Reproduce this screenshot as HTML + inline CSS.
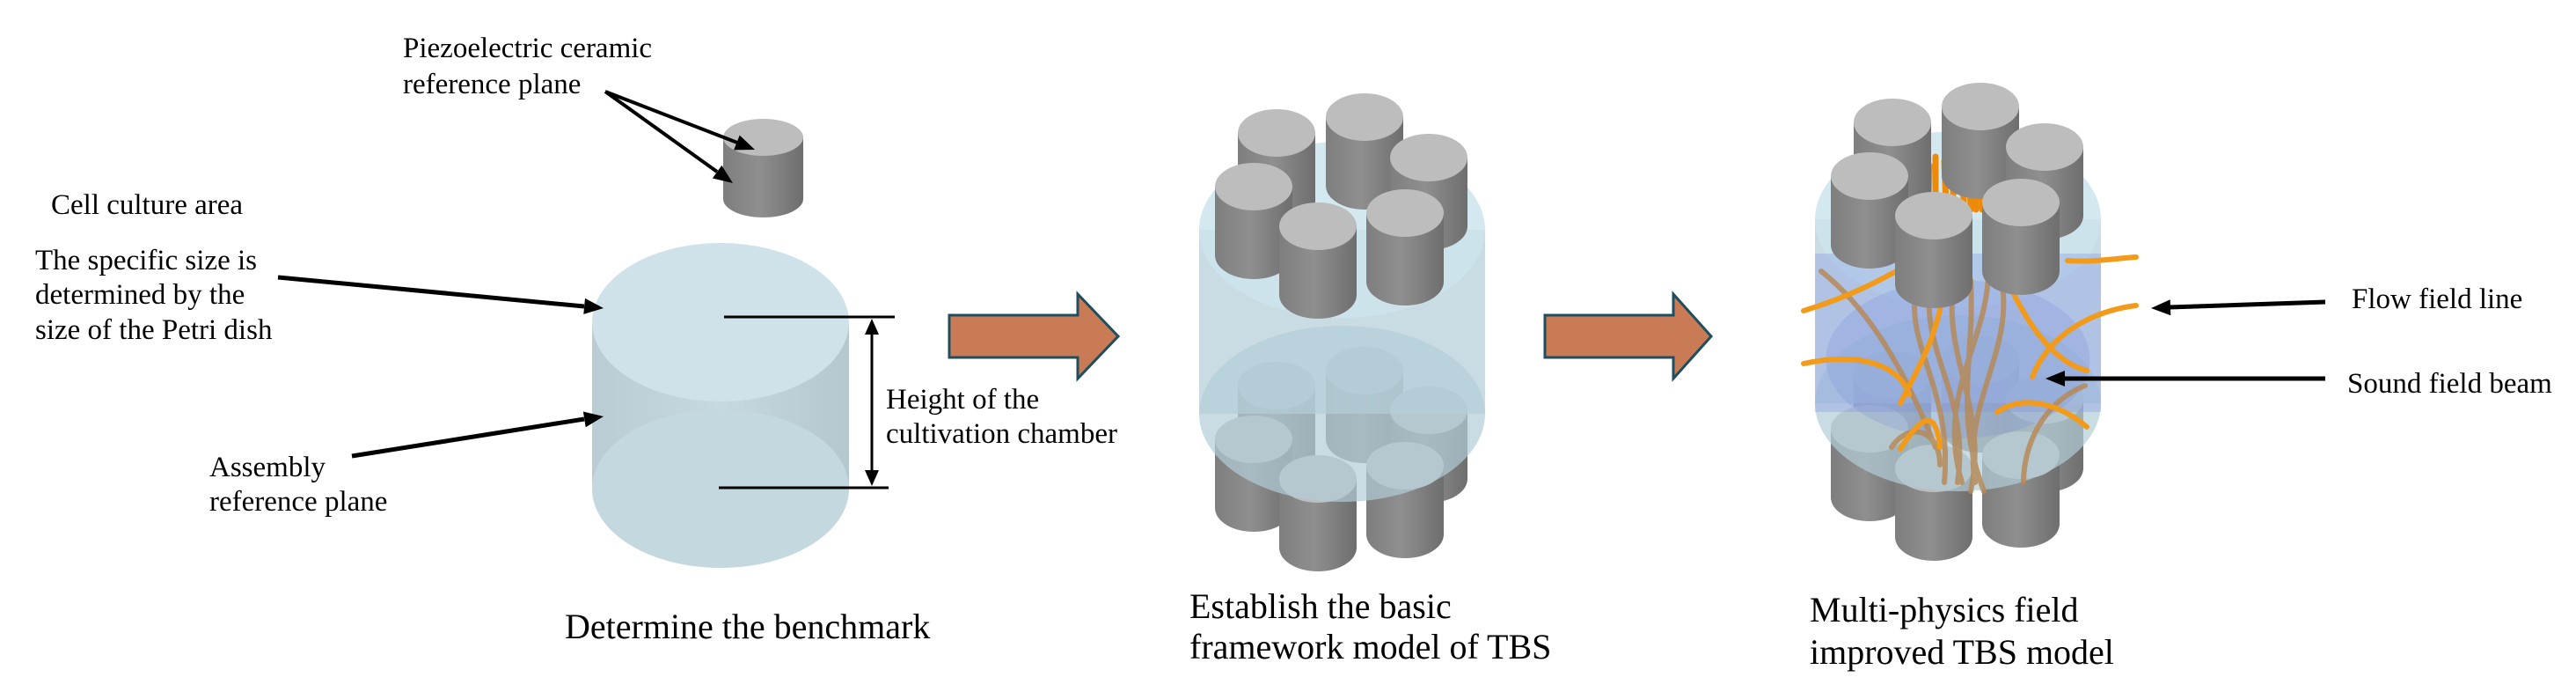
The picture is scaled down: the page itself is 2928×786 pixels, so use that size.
<!DOCTYPE html>
<html><head><meta charset="utf-8">
<style>
html,body{margin:0;padding:0;background:#fff;}
svg{display:block;}
</style></head>
<body>
<svg width="2928" height="786" viewBox="0 0 2928 786" xmlns="http://www.w3.org/2000/svg" font-family="'Liberation Serif', 'Times New Roman', serif">
<defs>
<linearGradient id="gb" x1="0" x2="1" y1="0" y2="0">
<stop offset="0" stop-color="#7e7e7e"/><stop offset="0.45" stop-color="#8f8f8f"/><stop offset="1" stop-color="#6e6e6e"/>
</linearGradient>
<linearGradient id="lb" x1="0" x2="1" y1="0" y2="0">
<stop offset="0" stop-color="#b9ccd4"/><stop offset="0.5" stop-color="#c6d8e0"/><stop offset="1" stop-color="#b4c7cf"/>
</linearGradient>
<g id="cyl">
<path d="M-44,0 L-44,78 A44 27 0 0 0 44,78 L44,0 Z" fill="url(#gb)"/>
<ellipse cx="0" cy="0" rx="44" ry="27" fill="#bdbdbd"/>
</g>
<g id="botgrp">
<use href="#cyl" x="1551" y="421"/><use href="#cyl" x="1451" y="438"/><use href="#cyl" x="1624" y="466"/>
<use href="#cyl" x="1425" y="499"/><use href="#cyl" x="1597" y="529"/><use href="#cyl" x="1498" y="544"/>
</g>
<g id="topgrp">
<use href="#cyl" x="1551" y="133"/><use href="#cyl" x="1451" y="151"/><use href="#cyl" x="1624" y="179"/>
<use href="#cyl" x="1425" y="212"/><use href="#cyl" x="1597" y="242"/><use href="#cyl" x="1498" y="257"/>
</g>
<g id="shell">
<rect x="1363" y="261" width="325" height="209" fill="rgba(180,205,215,0.7)"/>
<ellipse cx="1525.5" cy="470" rx="162.5" ry="100" fill="rgba(180,205,215,0.7)"/>
<ellipse cx="1525.5" cy="261" rx="162.5" ry="100" fill="rgba(205,228,236,0.85)"/>
</g>
</defs>

<g font-family="'Liberation Serif', 'Times New Roman', serif" font-size="33" fill="#000">
<text x="458" y="65">Piezoelectric ceramic</text>
<text x="458" y="106">reference plane</text>
<text x="58" y="243">Cell culture area</text>
<text x="40" y="306">The specific size is</text>
<text x="40" y="345">determined by the</text>
<text x="40" y="385">size of the Petri dish</text>
<text x="238" y="541">Assembly</text>
<text x="238" y="580">reference plane</text>
<text x="1007" y="464">Height of the</text>
<text x="1007" y="503">cultivation chamber</text>
<text x="2673" y="350">Flow field line</text>
<text x="2668" y="446">Sound field beam</text>
</g>
<g font-family="'Liberation Serif', 'Times New Roman', serif" font-size="40" fill="#000">
<text x="642" y="725">Determine the benchmark</text>
<text x="1352" y="702">Establish the basic</text>
<text x="1352" y="748">framework model of TBS</text>
<text x="2057" y="706">Multi-physics field</text>
<text x="2057" y="754">improved TBS model</text>
</g>

<path d="M822,156 L822,226 A45.5 21 0 0 0 913,226 L913,156 Z" fill="url(#gb)"/>
<ellipse cx="867.5" cy="156" rx="45.5" ry="21" fill="#bdbdbd"/>
<line x1="688" y1="104" x2="838" y2="162" stroke="#000" stroke-width="4"/>
<polygon points="858,170 834.1,170.4 840.7,153.6" fill="#000"/>
<line x1="688" y1="104" x2="815" y2="195" stroke="#000" stroke-width="4"/>
<polygon points="833,208 809.9,202.5 820.3,187.9" fill="#000"/>

<rect x="673" y="366" width="292" height="189" fill="url(#lb)"/>
<ellipse cx="819" cy="555" rx="146" ry="90" fill="#bccfd8"/>
<ellipse cx="819" cy="555" rx="146" ry="90" fill="#c6d9e1" opacity="0.8"/>
<ellipse cx="819" cy="366" rx="146" ry="90" fill="#cfe2ea"/>
<line x1="316" y1="315" x2="664" y2="348" stroke="#000" stroke-width="5"/>
<polygon points="686,350 663.3,356.9 665,338.9" fill="#000"/>
<line x1="400" y1="518" x2="664" y2="476" stroke="#000" stroke-width="5"/>
<polygon points="686,473 665.7,485.3 662.9,467.5" fill="#000"/>
<line x1="823" y1="360" x2="1017" y2="360" stroke="#000" stroke-width="3"/>
<line x1="817" y1="554" x2="1010" y2="554" stroke="#000" stroke-width="3"/>
<line x1="991" y1="368" x2="991" y2="546" stroke="#000" stroke-width="3"/>
<path d="M991,362 L983,380 L999,380 Z M991,552 L983,534 L999,534 Z" fill="#000"/>

<path d="M1079,358 L1225,358 L1225,334 L1271,382 L1225,430 L1225,406 L1079,406 Z" fill="#c97b55" stroke="#1f4e5f" stroke-width="3"/>

<use href="#botgrp"/>
<use href="#shell"/>
<use href="#topgrp"/>

<path d="M1756,358 L1902,358 L1902,334 L1945,382 L1902,430 L1902,406 L1756,406 Z" fill="#c97b55" stroke="#1f4e5f" stroke-width="3"/>

<g transform="translate(700,-12)">
<use href="#botgrp"/>
<use href="#shell"/>
<rect x="1363" y="300" width="325" height="180" fill="rgba(130,150,230,0.35)"/>
<ellipse cx="1525.5" cy="420" rx="150" ry="90" fill="rgba(120,140,220,0.25)"/>
<g fill="none" stroke-linecap="round">
<g stroke="#b58a5a" stroke-width="6" opacity="0.85">
<path d="M1480,330 C1460,400 1520,450 1510,560"/>
<path d="M1495,330 C1480,410 1540,460 1525,560"/>
<path d="M1560,320 C1560,400 1500,460 1530,560"/>
<path d="M1575,330 C1590,410 1530,470 1545,560"/>
<path d="M1520,340 C1510,420 1560,480 1540,570"/>
<path d="M1540,330 C1545,420 1520,480 1555,570"/>
<path d="M1370,320 C1420,360 1460,420 1500,520"/>
<path d="M1670,450 C1620,470 1600,520 1600,560"/>
<path d="M1450,520 C1470,490 1505,500 1505,540"/>
</g>
<g stroke="#f29a1a" stroke-width="6">
<path d="M1350,365 C1400,350 1440,330 1490,300"/>
<path d="M1350,425 C1420,410 1460,430 1470,460"/>
<path d="M1728,304 C1700,306 1680,310 1650,308"/>
<path d="M1728,359 C1680,365 1630,390 1610,440"/>
<path d="M1560,270 C1580,340 1620,420 1672,433"/>
<path d="M1510,340 C1500,400 1480,430 1460,470"/>
<path d="M1672,497 C1640,470 1600,460 1570,480"/>
<path d="M1460,522 C1480,490 1500,470 1505,520"/>
</g>
<g stroke="#ee8a0a" stroke-width="7">
<path d="M1493,200 L1492,240"/><path d="M1500,190 L1500,240"/><path d="M1510,195 L1512,245"/>
<path d="M1520,205 L1520,245"/><path d="M1530,178 L1532,245"/><path d="M1538,192 L1540,250"/>
<path d="M1545,175 L1546,250"/><path d="M1552,196 L1553,250"/><path d="M1560,185 L1558,250"/>
<path d="M1568,205 L1566,255"/><path d="M1575,192 L1578,230"/><path d="M1585,205 L1583,245"/>
</g>
</g>
<use href="#topgrp"/>
</g>
<line x1="2643" y1="343" x2="2466" y2="349" stroke="#000" stroke-width="5"/>
<polygon points="2445,350 2466.7,340.2 2467.3,358.2" fill="#000"/>
<line x1="2643" y1="430" x2="2346" y2="430" stroke="#000" stroke-width="5"/>
<polygon points="2325,430 2347,421 2347,439" fill="#000"/>
</svg>
</body></html>
